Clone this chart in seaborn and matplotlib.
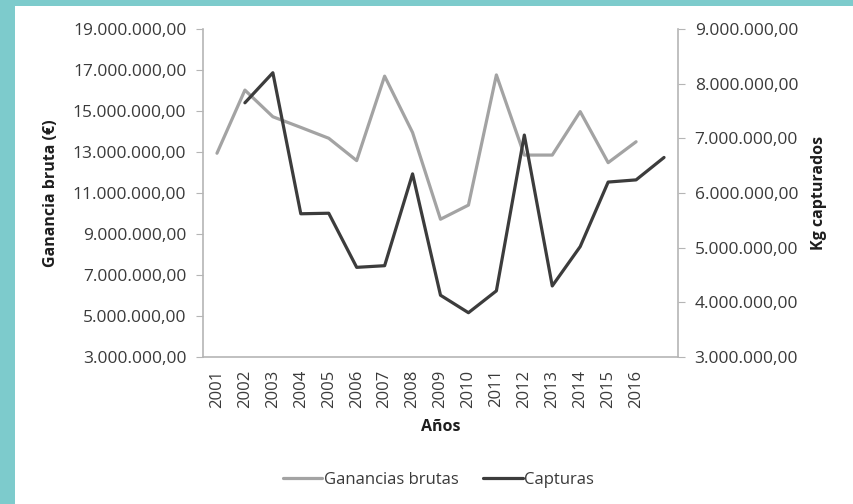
import matplotlib
matplotlib.use('Agg')
import matplotlib.pyplot as plt
from matplotlib.patches import Rectangle
from matplotlib.ticker import FuncFormatter
import numpy as np
import pandas as pd
import seaborn as sns

# category slots on the x axis (the last slot has no label in the original)
anios = ['2001', '2002', '2003', '2004', '2005', '2006', '2007', '2008',
         '2009', '2010', '2011', '2012', '2013', '2014', '2015', '2016', '']

# Ganancias brutas, slots 2001..2016 (left axis)
ganancias = [12940000, 16020000, 14720000, 14200000, 13670000, 12580000,
             16700000, 13950000, 9720000, 10410000, 16760000, 12850000,
             12850000, 14970000, 12480000, 13500000]

# Capturas in kg, drawn from the second slot to the last one (right axis)
capturas = [7650000, 8200000, 5620000, 5630000, 4640000, 4670000,
            6350000, 4130000, 3810000, 4210000, 7060000, 4300000,
            5020000, 6200000, 6240000, 6650000]

df_gan = pd.DataFrame({'pos': np.arange(len(ganancias)), 'valor': ganancias})
df_cap = pd.DataFrame({'pos': np.arange(1, len(capturas) + 1), 'valor': capturas})

sns.set_style('white')
plt.rcParams['font.family'] = ['Open Sans', 'DejaVu Sans']

teal = '#7dcbcc'
gris_claro = '#a3a3a3'
gris_oscuro = '#3c3c3c'
eje = '#b5b5b5'
texto = '#3a3a3a'

fig = plt.figure(figsize=(8.54, 5.04), dpi=100, facecolor=teal)
fig.patches.append(Rectangle((15 / 854, 0), 1, 1 - 6 / 504, transform=fig.transFigure,
                             facecolor='white', edgecolor='none', zorder=-10))

ax = fig.add_axes([203 / 854, 1 - 357 / 504, 475 / 854, 328 / 504])
ax.patch.set_alpha(0)
ax2 = ax.twinx()
ax2.patch.set_alpha(0)

sns.lineplot(data=df_gan, x='pos', y='valor', ax=ax, color=gris_claro, linewidth=2.3,
             label='Ganancias brutas', legend=False)
sns.lineplot(data=df_cap, x='pos', y='valor', ax=ax2, color=gris_oscuro, linewidth=2.3,
             label='Capturas', legend=False)


def es_fmt(v, pos=None):
    s = f'{v:,.2f}'
    return s.replace(',', 'X').replace('.', ',').replace('X', '.')


ax.set_xlim(-0.5, len(anios) - 0.5)
ax.set_ylim(3000000, 19000000)
ax.set_yticks(np.arange(3000000, 19000001, 2000000))
ax2.set_ylim(3000000, 9000000)
ax2.set_yticks(np.arange(3000000, 9000001, 1000000))
ax.yaxis.set_major_formatter(FuncFormatter(es_fmt))
ax2.yaxis.set_major_formatter(FuncFormatter(es_fmt))

# labels centred on the slots, tick marks between slots
ax.set_xticks(np.arange(len(anios)))
ax.set_xticklabels(anios, rotation=90)
ax.set_xticks(np.arange(len(anios) + 1) - 0.5, minor=True)
ax.tick_params(axis='x', which='major', length=0, pad=9, labelsize=12, colors=texto)
ax.tick_params(axis='x', which='minor', length=5, color=eje, direction='out')
ax.tick_params(axis='y', length=5, color=eje, direction='out', labelsize=12.5,
               colors=texto, pad=7, left=True)
ax2.tick_params(axis='y', length=5, color=eje, direction='out', labelsize=12.5,
                colors=texto, pad=7, right=True)

for a in (ax, ax2):
    a.spines['top'].set_visible(False)
    for s in ('left', 'right', 'bottom'):
        a.spines[s].set_color(eje)
        a.spines[s].set_linewidth(1.2)
ax.spines['right'].set_visible(False)
ax2.spines['left'].set_visible(False)
ax2.spines['bottom'].set_visible(False)
ax.grid(False)
ax2.grid(False)

ax.set_xlabel('Años', fontsize=11.5, fontweight='bold', color='#1e1e1e', labelpad=8)
ax.set_ylabel('Ganancia bruta (€)', fontsize=11.5, fontweight='bold', color='#1e1e1e',
              labelpad=10)
ax2.set_ylabel('Kg capturados', fontsize=11.5, fontweight='bold', color='#1e1e1e',
               labelpad=9)

h1, l1 = ax.get_legend_handles_labels()
h2, l2 = ax2.get_legend_handles_labels()
fig.legend(h1 + h2, l1 + l2, loc='center', bbox_to_anchor=(438.5 / 854, 1 - 480 / 504),
           ncol=2, frameon=False, fontsize=12, handlelength=2.35, handletextpad=0.1,
           columnspacing=1.5, labelcolor=texto)

fig.savefig('out.png', dpi=100, facecolor=teal)
